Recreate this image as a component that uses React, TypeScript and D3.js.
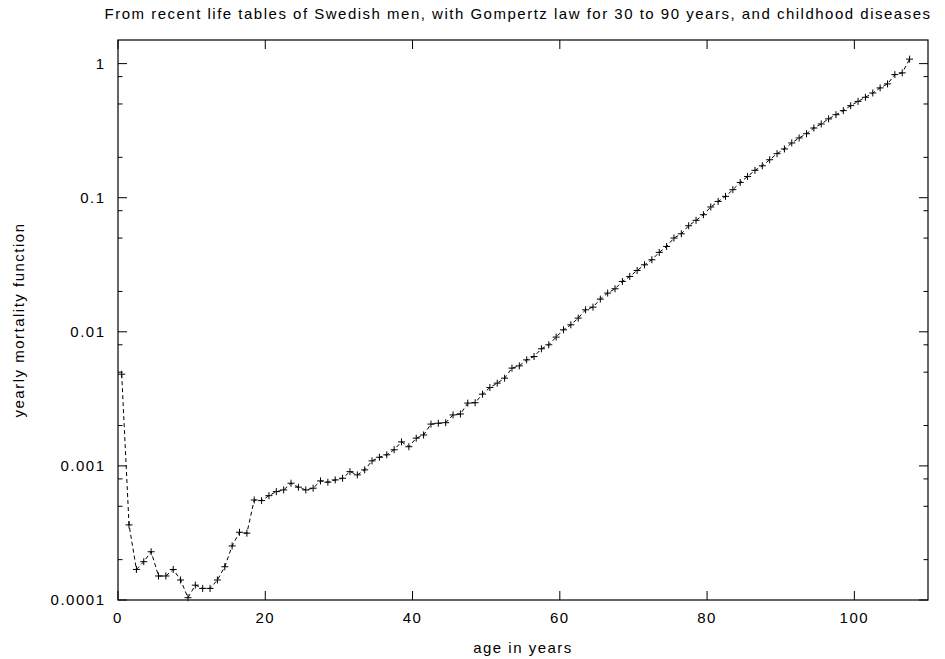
import * as d3 from 'd3';

// age groups are plotted at their midpoints (0.5, 1.5, ...)
const ages: number[] = d3.range(0, 108).map((i) => i + 0.5);

const mortality: number[] = [
  0.00483, 0.000363, 0.000169, 0.000193, 0.000229, 0.000151, 0.000151, 0.000169, 0.000141, 0.000104,
  0.000129, 0.000122, 0.000122, 0.000141, 0.000177, 0.000253, 0.00032, 0.000315, 0.000557, 0.000551,
  0.0006, 0.000643, 0.000662, 0.000743, 0.000694, 0.000662, 0.000682, 0.000773, 0.000756, 0.000786,
  0.000809, 0.000906, 0.000857, 0.000934, 0.00109, 0.00116, 0.00121, 0.00132, 0.00151, 0.00139,
  0.00161, 0.0017, 0.00205, 0.00208, 0.0021, 0.0024, 0.00244, 0.00294, 0.00296, 0.00343,
  0.00384, 0.00414, 0.00451, 0.00536, 0.00557, 0.00618, 0.00654, 0.00747, 0.008, 0.00913,
  0.01035, 0.01128, 0.01265, 0.01459, 0.01528, 0.01754, 0.01944, 0.02094, 0.02374, 0.02587,
  0.02866, 0.0316, 0.03446, 0.0391, 0.0433, 0.05, 0.0538, 0.0618, 0.0678, 0.0747,
  0.0853, 0.0938, 0.1023, 0.1148, 0.13, 0.144, 0.16, 0.173, 0.192, 0.213,
  0.231, 0.256, 0.279, 0.3, 0.331, 0.355, 0.387, 0.416, 0.446, 0.486,
  0.523, 0.561, 0.604, 0.659, 0.706, 0.828, 0.853, 1.08,
];

const xTicks: number[] = [0, 20, 40, 60, 80, 100];
const yTicks: number[] = [0.0001, 0.001, 0.01, 0.1, 1];
const yTickLabels: string[] = ['0.0001', '0.001', '0.01', '0.1', '1'];
const yMinorTicks: number[] = [
  0.0002, 0.0005, 0.0008, 0.002, 0.005, 0.008, 0.02, 0.05, 0.08, 0.2, 0.5, 0.8,
];

const title =
  'From recent life tables of Swedish men, with Gompertz law for 30 to 90 years, and childhood diseases';

export default function App() {
  const width = 945;
  const height = 659;
  const margin = { top: 40, right: 17, bottom: 59, left: 118 };
  const innerW = width - margin.left - margin.right;
  const innerH = height - margin.top - margin.bottom;

  const x = d3.scaleLinear().domain([0, 110]).range([0, innerW]);
  const y = d3.scaleLog().domain([0.0001, 1.5]).range([innerH, 0]);

  const pts = ages.map((a, i) => ({ a, v: mortality[i] }));
  const line = d3
    .line<{ a: number; v: number }>()
    .x((d) => x(d.a))
    .y((d) => y(d.v));

  const font = '"Liberation Sans", Arial, Helvetica, sans-serif';
  const fs = 15;
  const ls = 1.5; // gnuplot/libgd renders text a little loose
  const major = 9;
  const minor = 4.5;

  return (
    <div style={{ position: 'fixed', left: 0, top: 0, background: '#fff' }}>
      <svg
        width={width}
        height={height}
        style={{ display: 'block', letterSpacing: `${ls}px` }}
        fontFamily={font}
        fontSize={fs}
      >
        <rect width={width} height={height} fill="#fff" />
        <text x={518} y={19} textAnchor="middle" fill="#000">
          {title}
        </text>
        <g transform={`translate(${margin.left},${margin.top})`}>
          {yTicks.map((t, i) => (
            <g key={`y${t}`}>
              <line x1={0} x2={major} y1={y(t)} y2={y(t)} stroke="#000" />
              <line x1={innerW} x2={innerW - major} y1={y(t)} y2={y(t)} stroke="#000" />
              <text x={-12.5} y={y(t)} dy="0.36em" textAnchor="end" fill="#000">
                {yTickLabels[i]}
              </text>
            </g>
          ))}
          {yMinorTicks.map((t) => (
            <g key={`ym${t}`}>
              <line x1={0} x2={minor} y1={y(t)} y2={y(t)} stroke="#000" />
              <line x1={innerW} x2={innerW - minor} y1={y(t)} y2={y(t)} stroke="#000" />
            </g>
          ))}
          {xTicks.map((t) => (
            <g key={`x${t}`}>
              <line x1={x(t)} x2={x(t)} y1={innerH} y2={innerH - major} stroke="#000" />
              <line x1={x(t)} x2={x(t)} y1={0} y2={major} stroke="#000" />
              <text x={x(t)} y={innerH + 23} textAnchor="middle" fill="#000">
                {t}
              </text>
            </g>
          ))}

          <path
            d={line(pts) ?? ''}
            fill="none"
            stroke="#000"
            strokeWidth={1}
            strokeDasharray="4 3"
          />
          {pts.map((d, i) => (
            <path
              key={i}
              d={`M${x(d.a) - 3.5},${y(d.v)}h7M${x(d.a)},${y(d.v) - 3.5}v7`}
              stroke="#000"
              strokeWidth={1}
              fill="none"
            />
          ))}

          <rect
            x={0}
            y={0}
            width={innerW}
            height={innerH}
            fill="none"
            stroke="#000"
            strokeWidth={1.2}
          />
          <text x={innerW / 2} y={innerH + 53} textAnchor="middle" fill="#000">
            age in years
          </text>
          <text
            transform={`translate(${-94},${innerH / 2}) rotate(-90)`}
            textAnchor="middle"
            fill="#000"
          >
            yearly mortality function
          </text>
        </g>
      </svg>
    </div>
  );
}
